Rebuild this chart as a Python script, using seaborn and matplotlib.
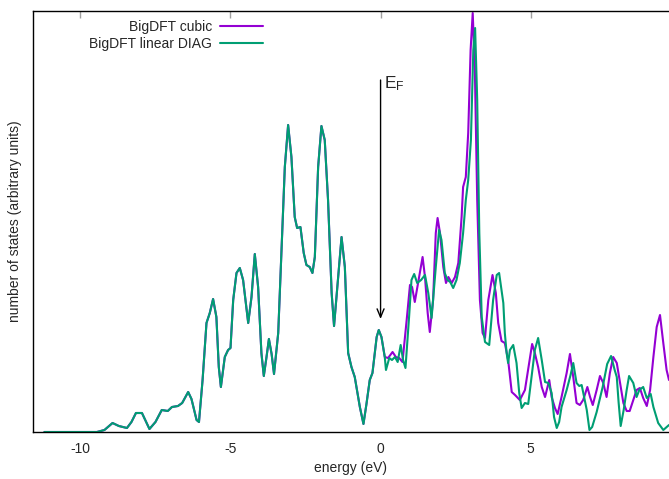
import numpy as np
import pandas as pd
import matplotlib
matplotlib.use('Agg')
import matplotlib.pyplot as plt
import seaborn as sns

# energies (eV) and DOS (arbitrary units)
# below E_F both calculations lie on top of each other
energy_common = [-11.2, -9.45, -9.2, -8.93, -8.72, -8.45, -8.3, -8.15, -7.95, -7.7, -7.5, -7.29,
                 -7.09, -6.95, -6.75, -6.61, -6.5, -6.41, -6.3, -6.13, -6.05, -5.93, -5.8, -5.69,
                 -5.58, -5.47, -5.39, -5.32, -5.19, -5.08, -5.0, -4.91, -4.8, -4.69, -4.58, -4.41,
                 -4.3, -4.19, -4.08, -3.97, -3.89, -3.8, -3.72, -3.63, -3.55, -3.41, -3.3, -3.19,
                 -3.08, -2.97, -2.86, -2.78, -2.67, -2.56, -2.47, -2.36, -2.27, -2.19, -2.08, -1.97,
                 -1.86, -1.75, -1.63, -1.55, -1.43, -1.3, -1.19, -1.08, -0.97, -0.86, -0.69, -0.57,
                 -0.47, -0.36, -0.27, -0.13, -0.06, 0.03, 0.14]
dos_common = [0, 0, 2, 9, 6, 4, 10, 19, 19, 3, 10, 22,
              21, 25, 26, 29, 35, 40, 33, 12, 10, 52, 109, 119,
              133, 115, 65, 45, 75, 82, 84, 132, 159, 164, 152, 109,
              135, 178, 145, 79, 56, 75, 93, 78, 58, 99, 182, 265,
              307, 275, 215, 204, 205, 179, 167, 165, 159, 175, 265, 306,
              292, 232, 139, 106, 149, 195, 165, 79, 65, 55, 25, 8,
              28, 52, 59, 95, 102, 95, 75]

energy_cubic = [0.25, 0.4, 0.51, 0.62, 0.73, 0.87, 0.98, 1.05, 1.14, 1.25, 1.4, 1.48, 1.57, 1.64,
                1.75, 1.84, 1.9, 1.98, 2.09, 2.18, 2.26, 2.37, 2.48, 2.59, 2.7, 2.75, 2.84, 2.92,
                3.0, 3.07, 3.14, 3.22, 3.31, 3.4, 3.48, 3.59, 3.73, 3.84, 3.92, 4.03, 4.14, 4.25,
                4.37, 4.48, 4.64, 4.81, 4.95, 5.05, 5.14, 5.25, 5.37, 5.48, 5.62, 5.7, 5.81, 5.9,
                6.03, 6.2, 6.31, 6.42, 6.53, 6.64, 6.75, 6.89, 6.98, 7.07, 7.2, 7.31, 7.42, 7.53,
                7.64, 7.75, 7.87, 7.98, 8.09, 8.2, 8.3, 8.42, 8.53, 8.64, 8.75, 8.87, 8.98, 9.09,
                9.2, 9.31, 9.42, 9.53, 9.61]
dos_cubic = [74, 80, 75, 74, 70, 112, 147, 145, 130, 149, 175, 155, 119, 100,
             132, 199, 214, 199, 165, 149, 155, 149, 155, 169, 215, 245, 255, 299,
             382, 419, 365, 232, 132, 99, 94, 132, 157, 139, 109, 91, 89, 72,
             40, 37, 32, 42, 69, 88, 79, 65, 45, 35, 52, 35, 24, 18,
             35, 59, 78, 55, 29, 27, 32, 45, 35, 27, 42, 56, 49, 35,
             59, 75, 69, 49, 29, 21, 21, 32, 42, 44, 34, 26, 42, 75,
             105, 117, 89, 62, 52]

energy_linear = [0.18, 0.29, 0.38, 0.48, 0.57, 0.67, 0.75, 0.83, 0.95, 1.03, 1.12, 1.22, 1.35,
                 1.48, 1.59, 1.7, 1.84, 1.95, 2.03, 2.14, 2.23, 2.32, 2.42, 2.53, 2.64, 2.75, 2.84,
                 2.92, 3.01, 3.09, 3.15, 3.22, 3.29, 3.37, 3.48, 3.62, 3.75, 3.87, 3.95, 4.03, 4.09,
                 4.14, 4.2, 4.25, 4.31, 4.42, 4.53, 4.62, 4.7, 4.81, 4.92, 5.03, 5.14, 5.25, 5.37,
                 5.48, 5.59, 5.7, 5.78, 5.87, 5.95, 6.03, 6.2, 6.33, 6.42, 6.53, 6.62, 6.7, 6.78,
                 6.87, 6.96, 7.05, 7.2, 7.4, 7.55, 7.68, 7.8, 7.87, 7.93, 8.0, 8.1, 8.2, 8.28, 8.42,
                 8.53, 8.62, 8.75, 8.87, 9.0, 9.09, 9.25, 9.42, 9.61]
dos_linear = [62, 74, 72, 75, 70, 87, 72, 64, 115, 152, 158, 149, 152,
              157, 139, 114, 165, 202, 192, 159, 152, 150, 144, 152, 169, 199, 232,
              252, 292, 382, 404, 332, 199, 115, 90, 87, 132, 157, 159, 142, 129,
              99, 79, 69, 82, 87, 69, 39, 24, 29, 28, 55, 82, 94, 72,
              50, 49, 39, 15, 4, 10, 25, 42, 57, 69, 49, 46, 47, 35,
              22, 2, 5, 20, 45, 68, 76, 62, 55, 30, 6, 22, 42, 56, 49,
              35, 42, 45, 34, 38, 25, 9, 2, 7]

cubic = pd.DataFrame({'energy': energy_common + energy_cubic, 'dos': dos_common + dos_cubic})
linear = pd.DataFrame({'energy': energy_common + energy_linear, 'dos': dos_common + dos_linear})

sns.set_style('white')
plt.rcParams['font.family'] = ['Liberation Sans', 'DejaVu Sans']
plt.rcParams['mathtext.default'] = 'regular'
plt.rcParams['axes.unicode_minus'] = False

fig = plt.figure(figsize=(6.69, 4.79), dpi=100)
ax = fig.add_axes([33 / 669, 47 / 479, 636 / 669, 421 / 479])

sns.lineplot(data=cubic, x='energy', y='dos', sort=False, color='#9400d3', lw=1.5,
             solid_joinstyle='round', label='BigDFT cubic', ax=ax)
sns.lineplot(data=linear, x='energy', y='dos', sort=False, color='#009e73', lw=1.5,
             solid_joinstyle='round', label='BigDFT linear DIAG', ax=ax)

# Fermi level arrow
ax.annotate('', xy=(0, 113), xytext=(0, 352),
            arrowprops=dict(arrowstyle='->,head_length=0.6,head_width=0.25', color='black', lw=1,
                            shrinkA=0, shrinkB=0))
ax.text(0.1, 344, r'$\mathregular{E_F}$', fontsize=12.5, ha='left', va='baseline')

ax.set_xlim(-11.58, 9.61)
ax.set_ylim(0, 421)
ax.set_xticks([-10, -5, 0, 5])
ax.set_yticks([])
ax.tick_params(axis='x', direction='in', top=True, length=5, width=1, color='#a0a0a0',
               labelsize=10, pad=7)
for side in ['left', 'top', 'bottom']:
    ax.spines[side].set_color('black')
    ax.spines[side].set_linewidth(1)
ax.spines['right'].set_visible(False)

ax.set_xlabel('energy (eV)', fontsize=10, labelpad=4)
ax.set_ylabel('number of states (arbitrary units)', fontsize=10, labelpad=8)

ax.legend(loc='upper right', bbox_to_anchor=(0.362, 0.978), frameon=False, markerfirst=False,
          fontsize=10, handlelength=3.1, handletextpad=0.6, labelspacing=0.18,
          borderpad=0, borderaxespad=0)

fig.savefig('out.png', dpi=100)
